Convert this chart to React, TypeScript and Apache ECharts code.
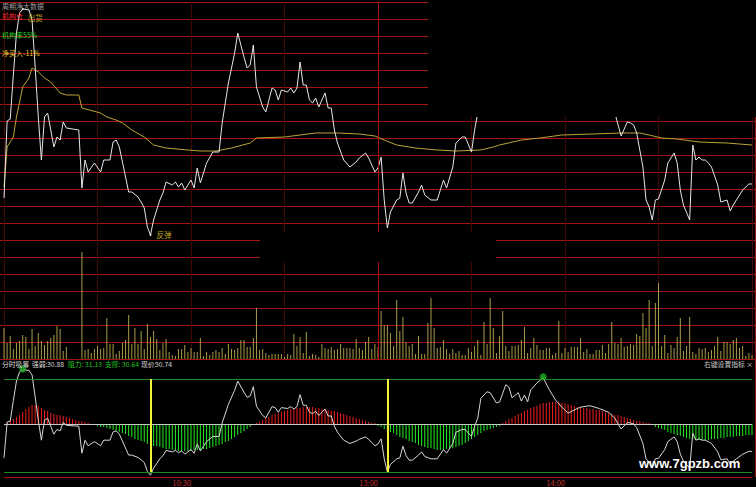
import React, { useEffect, useRef } from "react";
import * as echarts from "echarts";

const FONT = '"Noto Sans CJK SC", "Noto Sans", sans-serif';

// ---- price (minute index from 9:30, 0..240) ----
const priceTimes = [0,1,2,3,4,5,6,8,9,10,11,12,13,14,15,16,17,18,19,20,24,25,26,27,29,31,32,34,35,36,37,40,41,43,44,45,46,47,48,50,51,52,54,55,56,57,58,60,61,62,63,65,67,69,70,72,74,75,77,78,79,80,81,83,84,85,86,87,88,89,91,92,93,94,95,96,97,98,99,100,101,103,104,105,106,107,109,111,113,114,116,117,119,120,121,122,123,124,126,127,128,129,130,131,133,134,135,137,139,141,142,144,145,147,148,150,151,152,153,155,156,158,159,161,162,163,165,166,167,168,169,171,173,175,177,179,181,183,185,188,191,194,196,198,200,201,202,203,205,206,207,208,209,210,212,213,215,216,217,218,220,221,222,223,224,225,226,227,229,230,232,233,234,235,237,239,240];
const priceValues = [30.60,31.37,31.39,31.83,32.25,32.45,32.49,32.48,32.38,31.91,31.41,30.98,31.41,31.45,31.28,31.11,31.21,31.18,31.36,31.30,31.28,30.70,30.98,30.86,30.95,30.86,30.98,30.98,31.16,31.18,31.11,30.66,30.66,30.61,30.56,30.50,30.31,30.23,30.38,30.58,30.65,30.76,30.73,30.76,30.71,30.75,30.68,30.78,30.70,30.90,30.75,30.95,31.06,31.06,31.35,31.75,32.05,32.25,32.01,31.90,31.93,32.13,31.71,31.51,31.46,31.58,31.70,31.68,31.58,31.68,31.66,31.70,31.65,31.70,31.96,31.73,31.73,31.58,31.55,31.60,31.51,31.65,31.50,31.50,31.28,31.15,30.98,30.91,30.96,31.00,31.05,31.00,30.86,30.90,31.01,30.58,30.30,30.46,30.58,30.60,30.85,30.65,30.55,30.55,30.66,30.73,30.63,30.58,30.58,30.78,30.70,30.91,31.15,31.21,31.21,31.06,31.28,31.45,31.88,32.02,32.00,31.78,31.80,32.17,32.12,31.89,32.00,31.82,31.95,31.80,32.06,32.21,32.32,32.06,31.84,31.69,31.56,31.63,31.69,31.72,31.66,31.58,31.45,31.22,31.36,31.35,31.33,31.25,30.91,30.58,30.51,30.38,30.58,30.59,30.78,30.95,31.05,30.95,30.68,30.53,30.38,31.13,30.98,31.01,30.98,30.98,30.95,30.91,30.73,30.56,30.58,30.47,30.53,30.58,30.68,30.74,30.74];

const avgTimes = [0,1,3,4,6,8,9,11,13,15,18,20,24,25,31,33,36,38,41,45,48,52,59,63,68,73,79,81,90,95,100,107,114,119,122,126,132,139,145,153,157,159,166,172,179,189,198,204,207,211,216,223,232,240];
const avgValues = [30.71,31.11,31.21,31.41,31.71,31.80,31.90,31.86,31.80,31.76,31.65,31.63,31.63,31.50,31.45,31.41,31.38,31.35,31.28,31.21,31.13,31.10,31.08,31.07,31.07,31.10,31.15,31.20,31.21,31.23,31.25,31.25,31.24,31.22,31.18,31.13,31.10,31.08,31.07,31.08,31.11,31.13,31.18,31.20,31.23,31.24,31.25,31.25,31.23,31.20,31.19,31.16,31.15,31.13];

// ---- volume per minute (0..240) ----
const volumes = [31,16,23,10,16,18,24,22,10,30,13,26,18,14,18,21,24,33,30,8,12,
  0,0,0,0,
  107,9,10,6,10,13,10,11,41,15,15,5,8,16,19,44,15,31,15,28,10,35,22,28,20,9,16,20,7,4,
  3,10,10,14,7,11,7,7,21,3,7,4,7,9,7,11,5,15,10,9,11,19,19,12,12,21,51,9,10,6,4,5,5,5,5,2,5,4,25,13,22,6,27,3,5,4,2,15,11,10,12,9,10,15,11,11,11,10,20,11,9,17,22,10,15,
  12,
  48,34,34,26,13,59,28,42,17,13,15,5,23,5,5,36,61,31,11,12,19,10,5,10,6,8,4,4,11,7,13,19,4,37,15,61,31,6,23,48,13,8,13,13,14,19,32,6,11,21,14,9,9,11,11,4,6,38,6,11,7,12,12,12,21,7,10,5,5,9,9,14,6,15,37,16,15,21,12,13,15,14,25,23,46,31,59,13,56,76,13,24,6,14,11,22,41,8,13,42,7,5,11,10,11,7,9,13,22,8,17,17,15,19,21,11,13,3,6,4];

// ---- indicator histogram per minute (0..240) ----
const indicatorBars = [0,1,3,5,7,9,12,15,17,19,19,18,16,14,13,11,10,9,9,8,7,6,5,4,3,3,2,1,
  -1,-1,-2,-3,-3,-4,-5,-6,-7,-8,-9,-10,-12,-13,-15,-16,-17,-18,-20,-21,-22,-22,-23,-24,-25,-25,-26,-26,-27,-27,-27,-27,-27,-26,-26,-26,-25,-25,-24,-23,-22,-21,-20,-18,-17,-15,-13,-11,-9,-7,-5,-3,-1,
  1,2,4,6,7,9,10,11,12,13,14,15,15,16,16,17,17,17,17,16,16,15,15,14,13,13,12,11,10,9,8,7,6,5,4,3,2,1,1,
  -2,-3,-5,-6,-8,-9,-11,-13,-14,-15,-17,-18,-19,-21,-22,-23,-24,-24,-25,-26,-26,-26,-25,-25,-24,-23,-22,-21,-19,-17,-15,-13,-11,-9,-7,-6,-5,-4,-3,-2,
  1,3,5,6,8,10,11,13,14,16,17,18,20,21,21,22,22,22,22,21,21,20,19,18,17,17,16,16,15,15,14,14,13,12,11,10,9,9,8,7,6,5,4,3,3,2,1,1,
  -1,-3,-4,-5,-6,-8,-9,-10,-11,-12,-13,-14,-15,-15,-16,-16,-16,-16,-16,-15,-15,-15,-14,-14,-13,-13,-13,-12,-12,-12,-11,-11,-11];
const upperLevel = 45;
const lowerLevel = -48;
const signalTimes = [47, 123];
const sellSignalTime = 6;
const buySignalTime = 47;
const absorbTimes = [6, 173];

const timeLabels: Record<number, string> = { 60: "10:30", 120: "13:00", 180: "14:00" };

const headerTexts = [
  { text: "周期净大数据", color: "#9a9a9a", y: 6 },
  { text: "机构仓", color: "#ff2a2a", y: 16 },
  { text: "机构率55%", color: "#2ad02a", y: 35 },
  { text: "净买入-11%", color: "#e8c830", y: 53 },
];
const indicatorName = "分时吸筹";
const strengthValue = "30.88";
const resistanceValue = "31.13";
const supportValue = "30.64";
const currentValue = "30.74";

export default function App() {
  const ref = useRef<HTMLDivElement>(null);

  useEffect(() => {
    if (!ref.current) return;
    const chart = echarts.init(ref.current, null, { renderer: "svg" });
    const minutes = volumes.map((_, i) => i);
    const priceData = priceTimes.map((t, i) => [t, priceValues[i]]);
    const avgData = avgTimes.map((t, i) => [t, avgValues[i]]);
    const volData = minutes.map((t) => [t, volumes[t]]);
    const barData = minutes.map((t) => [t, indicatorBars[t]]);
    const priceAt = (t: number) => priceValues[priceTimes.indexOf(t)];

    const txt = (x: number, y: number, text: string, fill: string, size = 6.8, extra: any = {}) => ({
      type: "text",
      x,
      y,
      z: 101,
      style: { text, fill, fontSize: size, fontFamily: FONT, verticalAlign: "middle", ...extra },
    });

    const option: any = {
      backgroundColor: "#000000",
      animation: false,
      grid: [
        { left: 0, right: 0, top: 2, height: 357 },
        { left: 4, right: 4, top: 2, height: 357 },
        { left: 4, right: 4, top: 239, height: 120 },
        { left: 4, right: 4, top: 368, height: 109 },
      ],
      xAxis: [
        { gridIndex: 0, type: "value", min: 0, max: 1, show: false },
        {
          gridIndex: 1, type: "value", min: 0, max: 240, interval: 30,
          axisLine: { show: false }, axisTick: { show: false }, axisLabel: { show: false },
          splitLine: { show: true, lineStyle: { color: "#420808", width: 1 } },
        },
        { gridIndex: 2, type: "value", min: 0, max: 240, show: false },
        {
          gridIndex: 3, type: "value", min: 0, max: 240, interval: 30,
          axisLine: { show: true, onZero: false, lineStyle: { color: "#a01212", width: 1 } },
          axisTick: { show: false },
          splitLine: { show: false },
          axisLabel: {
            formatter: (v: number) => timeLabels[v] || "",
            color: "#c83030", fontSize: 7.5, fontFamily: FONT, align: "right", margin: 2,
          },
        },
      ],
      yAxis: [
        {
          gridIndex: 0, type: "value", min: 0, max: 21, interval: 1,
          axisLine: { show: false }, axisTick: { show: false }, axisLabel: { show: false },
          splitLine: { show: true, lineStyle: { color: "#a01414", width: 1 } },
        },
        { gridIndex: 1, type: "value", min: 28.99, max: 32.56, show: false },
        { gridIndex: 2, type: "value", min: 0, max: 120, show: false },
        { gridIndex: 3, type: "value", min: -53, max: 56, show: false },
        { gridIndex: 3, type: "value", min: 30.19, max: 32.53, show: false },
      ],
      series: [
        {
          type: "bar", xAxisIndex: 2, yAxisIndex: 2, data: volData, barWidth: 1,
          itemStyle: { color: "#a89c48" }, silent: true, z: 2,
        },
        {
          type: "line", xAxisIndex: 1, yAxisIndex: 1, data: avgData, symbol: "none",
          lineStyle: { color: "#bca236", width: 1 }, silent: true, z: 3,
        },
        {
          type: "line", xAxisIndex: 1, yAxisIndex: 1, data: priceData, symbol: "none",
          lineStyle: { color: "#e6e6e6", width: 1 }, silent: true, z: 4,
          markLine: {
            silent: true, symbol: "none", label: { show: false },
            lineStyle: { color: "#a81212", width: 1, type: "solid" },
            data: [{ xAxis: 120 }],
          },
        },
        {
          type: "scatter", xAxisIndex: 1, yAxisIndex: 1, silent: true, z: 5,
          symbol: "circle", symbolSize: 2,
          itemStyle: { color: "#ffffff" },
          data: [
            { value: [sellSignalTime, priceAt(sellSignalTime)], label: { show: true, formatter: "出货", position: "right", offset: [-1, 8] } },
            { value: [buySignalTime, priceAt(buySignalTime)], label: { show: true, formatter: "反弹", position: "right", offset: [0, -1] } },
          ],
          label: { color: "#e8d020", fontSize: 7.5, fontFamily: FONT },
        },
        {
          type: "bar", xAxisIndex: 3, yAxisIndex: 3, data: barData, barWidth: 1, silent: true, z: 2,
          itemStyle: { color: (p: any) => (p.value[1] >= 0 ? "#ee1c1c" : "#22ee22") },
          markLine: {
            silent: true, symbol: "none", label: { show: false },
            data: [
              { yAxis: upperLevel, lineStyle: { color: "#1f8a1f", width: 1, type: "solid" } },
              { yAxis: lowerLevel, lineStyle: { color: "#1f8a1f", width: 1, type: "solid" } },
              { yAxis: 0, lineStyle: { color: "#c8c8c8", width: 1, type: "solid" } },
              ...signalTimes.map((t) => [
                { coord: [t, upperLevel], lineStyle: { color: "#f2f23c", width: 2, type: "solid" } },
                { coord: [t, lowerLevel] },
              ]),
            ],
          },
        },
        {
          type: "line", xAxisIndex: 3, yAxisIndex: 4, data: priceData, symbol: "none",
          lineStyle: { color: "#d6d6d6", width: 1 }, silent: true, z: 4,
        },
        {
          type: "scatter", xAxisIndex: 3, yAxisIndex: 4, silent: true, z: 5,
          symbol: "circle", symbolSize: 7, symbolOffset: [0, -1],
          itemStyle: { color: "#1fb01f" },
          data: absorbTimes.map((t) => [t, priceAt(t)]),
        },
      ],
      graphic: [
        { type: "rect", z: 100, shape: { x: 428, y: 0, width: 328, height: 117 }, style: { fill: "#000000" } },
        { type: "rect", z: 100, shape: { x: 260, y: 232, width: 236, height: 30 }, style: { fill: "#000000" } },
        { type: "line", z: 100, shape: { x1: 755.5, y1: 117, x2: 755.5, y2: 477 }, style: { stroke: "#a01010", lineWidth: 1 } },
        ...headerTexts.map((h) => txt(2, h.y, h.text, h.color, 7)),
        txt(2, 364, indicatorName, "#d8d8d8"),
        txt(32, 364, "强弱:", "#d8d8d8"),
        txt(47, 364, strengthValue, "#d8d8d8"),
        txt(68, 364, "阻力:", "#22c822"),
        txt(85, 364, resistanceValue, "#22c822"),
        txt(105, 364, "支撑:", "#22c822"),
        txt(122, 364, supportValue, "#22c822"),
        txt(141, 364, "现价:", "#d8d8d8"),
        txt(155, 364, currentValue, "#d8d8d8"),
        txt(704, 364, "右键设置指标 ×", "#c8c8c8"),
        txt(639, 463, "www.7gpzb.com", "#ffffff", 13, { fontWeight: "bold", fontFamily: "Arial, Liberation Sans, sans-serif" }),
      ],
    };
    chart.setOption(option);
    return () => chart.dispose();
  }, []);

  return (
    <div
      ref={ref}
      style={{ position: "fixed", left: 0, top: 0, width: 756, height: 487, background: "#000" }}
    />
  );
}
